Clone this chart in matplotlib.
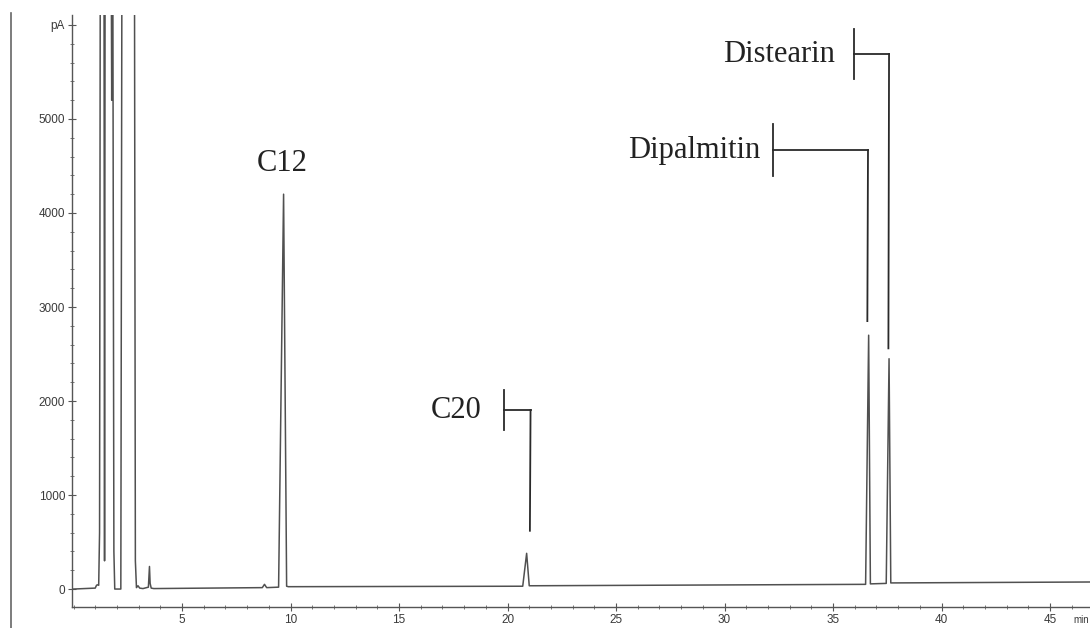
import matplotlib
matplotlib.use('Agg')
import matplotlib.pyplot as plt
from matplotlib.lines import Line2D
from matplotlib.ticker import MultipleLocator
import numpy as np

# detector trace, time (min) vs signal (pA); off-scale values run past the top of the frame
trace_time = [0.0, 1.0, 1.06, 1.1, 1.16, 1.2, 1.24, 1.4, 1.43, 1.46, 1.72, 1.76, 1.8,
              1.86, 1.9, 2.18, 2.24, 2.8, 2.85, 2.9, 2.97, 3.05, 3.2, 3.45, 3.5, 3.53,
              3.58, 3.7, 8.7, 8.8, 8.9, 9.45, 9.68, 9.82, 9.9, 20.7, 20.88, 21.0,
              21.2, 36.5, 36.64, 36.72, 37.45, 37.58, 37.66, 46.9]
trace_pa = [0, 10, 40, 45, 40, 600, 8000, 8000, 300, 8000, 8000, 5200, 8000,
            400, 0, 0, 8000, 8000, 300, 15, 35, 10, 5, 20, 240, 60,
            10, 5, 15, 50, 15, 20, 4200, 30, 25, 30, 380, 35,
            35, 50, 2700, 55, 60, 2450, 65, 75]

peak_names = ['C12', 'C20', 'Dipalmitin', 'Distearin']
peak_rt = [9.68, 20.88, 36.64, 37.58]

y_major = [0, 1000, 2000, 3000, 4000, 5000, 6000]
y_labels = ['0', '1000', '2000', '3000', '4000', '5000', 'pA']
x_major = [5, 10, 15, 20, 25, 30, 35, 40, 45]

W, H = 1090, 628
fig = plt.figure(figsize=(W / 100, H / 100), dpi=100)
ax = fig.add_axes([72 / W, 21 / H, (W - 72) / W, (607 - 15) / H])

ax.plot(trace_time, trace_pa, color='#505050', lw=1.1)

ax.set_xlim(-0.07, 46.84)
ax.set_ylim(-191, 6106)

for s in ['top', 'right']:
    ax.spines[s].set_visible(False)
for s in ['left', 'bottom']:
    ax.spines[s].set_color('#555555')
    ax.spines[s].set_linewidth(1.0)

ax.set_yticks(y_major)
ax.set_yticklabels(y_labels)
ax.yaxis.set_minor_locator(MultipleLocator(200))
ax.set_xticks(x_major)
ax.xaxis.set_minor_locator(MultipleLocator(1))
ax.tick_params(which='major', direction='inout', length=6, width=0.8, color='#555555',
               labelsize=8.5, labelcolor='#3a3a3a', pad=2)
ax.tick_params(which='minor', direction='inout', length=3, width=0.7, color='#777777')
for lab in ax.get_xticklabels() + ax.get_yticklabels():
    lab.set_fontfamily('Liberation Sans')

fig.text(1089 / W, 1 - 620 / H, 'min', fontsize=7, color='#3a3a3a',
         family='Liberation Sans', va='center', ha='right')

# page border on the left
fig.add_artist(Line2D([11 / W, 11 / W], [0, 1 - 13 / H], color='#666666', lw=1.2))

lab_kw = dict(family='Liberation Serif', fontsize=22, color='#222222')
br_kw = dict(color='#2a2a2a', lw=1.3, clip_on=False)

# C12 plain label over the peak
ax.text(peak_rt[0] - 0.07, 4530, peak_names[0], ha='center', va='center', **lab_kw)

# bracketed labels: text, short bar, leader over to the peak
brackets = [
    # name idx, text right x, label y, bar x, bar half height, leader x offset, leader bottom
    (1, 18.8, 1904, 19.84, 215, 0.18, 620),
    (2, 31.64, 4670, 32.23, 275, -0.03, 2850),
    (3, 35.09, 5691, 35.96, 265, 0.0, 2560),
]
for i, tx, ly, bx, hh, off, bottom in brackets:
    vx = peak_rt[i] + off
    ax.text(tx, ly, peak_names[i], ha='right', va='center', **lab_kw)
    ax.plot([bx, bx], [ly - hh, ly + hh], **br_kw)
    ax.plot([bx, vx], [ly, ly], **br_kw)
    ax.plot([vx, vx - 0.03], [ly, bottom], **br_kw)

fig.savefig('out.png', dpi=100)
